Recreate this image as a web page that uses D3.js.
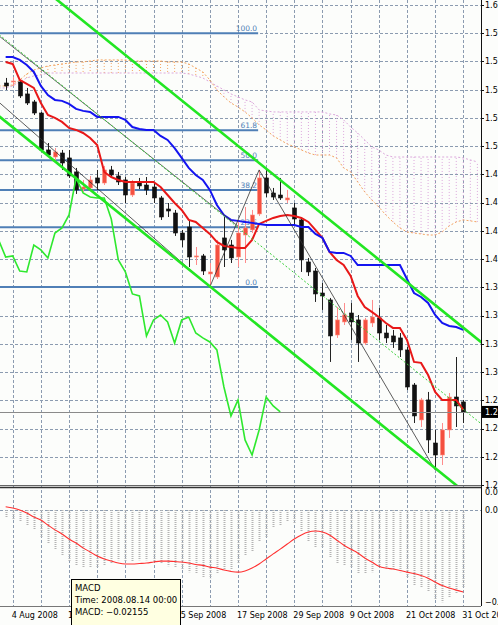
<!DOCTYPE html>
<html>
<head>
<meta charset="utf-8">
<script src="https://cdnjs.cloudflare.com/ajax/libs/d3/7.8.5/d3.min.js"></script>
<style>
  body { margin: 0; background: #fff; }
  svg { display: block; font-family: Tahoma, 'DejaVu Sans', sans-serif; }
</style>
</head>
<body>
<script>
const w = 498
const h = 625

// EUR/USD daily bars, 1 Aug 2008 .. 31 Oct 2008 (weekdays)
const dates = d3.timeDay.range(new Date(2008, 7, 1), new Date(2008, 10, 1))
  .filter(d => d.getDay() !== 0 && d.getDay() !== 6)

const open = [1.5552, 1.5561, 1.5561, 1.5459, 1.5391, 1.5297, 1.4983, 1.4923, 1.4957, 1.4915,
  1.4796, 1.4651, 1.4660, 1.4745, 1.4702, 1.4813, 1.4762, 1.4728, 1.4600, 1.4702,
  1.4685, 1.4668, 1.4575, 1.4481, 1.4447, 1.4277, 1.4328, 1.4073, 1.4082, 1.3929,
  1.3903, 1.4235, 1.4175, 1.4073, 1.4260, 1.4303, 1.4439, 1.4745, 1.4617, 1.4600,
  1.4558, 1.4490, 1.4388, 1.4031, 1.3954, 1.3767, 1.3708, 1.3410, 1.3521, 1.3597,
  1.3538, 1.3342, 1.3512, 1.3555, 1.3427, 1.3402, 1.3385, 1.3283, 1.2985, 1.2688,
  1.2858, 1.2492, 1.2390, 1.2603, 1.2883, 1.2841]
const high = [1.5595, 1.5603, 1.5578, 1.5510, 1.5408, 1.5306, 1.5042, 1.4999, 1.4983, 1.4983,
  1.4830, 1.4728, 1.4762, 1.4813, 1.4847, 1.4847, 1.4796, 1.4753, 1.4728, 1.4745,
  1.4753, 1.4702, 1.4592, 1.4532, 1.4473, 1.4303, 1.4388, 1.4158, 1.4099, 1.4022,
  1.4218, 1.4413, 1.4218, 1.4388, 1.4498, 1.4473, 1.4813, 1.4830, 1.4660, 1.4745,
  1.4643, 1.4532, 1.4413, 1.4065, 1.3980, 1.3852, 1.3725, 1.3648, 1.3682, 1.3682,
  1.3580, 1.3555, 1.3708, 1.3640, 1.3495, 1.3453, 1.3427, 1.3308, 1.3002, 1.2875,
  1.2926, 1.2603, 1.2662, 1.2917, 1.3223, 1.2858]
const low = [1.5493, 1.5527, 1.5425, 1.5365, 1.5280, 1.4966, 1.4923, 1.4872, 1.4813, 1.4745,
  1.4609, 1.4626, 1.4643, 1.4643, 1.4685, 1.4745, 1.4685, 1.4532, 1.4583, 1.4651,
  1.4600, 1.4532, 1.4388, 1.4413, 1.4252, 1.4158, 1.3988, 1.4005, 1.3920, 1.3818,
  1.3886, 1.3988, 1.4022, 1.3988, 1.4022, 1.4277, 1.4422, 1.4583, 1.4558, 1.4558,
  1.4532, 1.4345, 1.3946, 1.3912, 1.3691, 1.3623, 1.3181, 1.3385, 1.3495, 1.3368,
  1.3181, 1.3325, 1.3478, 1.3368, 1.3342, 1.3300, 1.3223, 1.2943, 1.2662, 1.2628,
  1.2407, 1.2263, 1.2305, 1.2535, 1.2628, 1.2662]
const close = [1.5527, 1.5569, 1.5442, 1.5382, 1.5297, 1.4983, 1.4940, 1.4966, 1.4872, 1.4762,
  1.4643, 1.4668, 1.4728, 1.4702, 1.4813, 1.4770, 1.4711, 1.4600, 1.4702, 1.4677,
  1.4643, 1.4575, 1.4413, 1.4464, 1.4277, 1.4218, 1.4073, 1.4082, 1.3954, 1.3946,
  1.4175, 1.4133, 1.4065, 1.4277, 1.4320, 1.4430, 1.4745, 1.4617, 1.4583, 1.4575,
  1.4575, 1.4396, 1.4048, 1.3946, 1.3759, 1.3742, 1.3402, 1.3538, 1.3580, 1.3521,
  1.3342, 1.3538, 1.3563, 1.3427, 1.3385, 1.3351, 1.3283, 1.2968, 1.2722, 1.2858,
  1.2518, 1.2390, 1.2603, 1.2883, 1.2807, 1.2756]

// Ichimoku
const tenkan = [1.5731, 1.5714, 1.5578, 1.5544, 1.5510, 1.5382, 1.5280, 1.5255, 1.5221, 1.5170,
  1.5153, 1.5127, 1.5085, 1.5025, 1.4796, 1.4753, 1.4728, 1.4711, 1.4711, 1.4711,
  1.4711, 1.4711, 1.4668, 1.4600, 1.4532, 1.4473, 1.4388, 1.4371, 1.4320, 1.4269,
  1.4201, 1.4167, 1.4158, 1.4150, 1.4150, 1.4218, 1.4354, 1.4380, 1.4405, 1.4422,
  1.4430, 1.4422, 1.4405, 1.4371, 1.4303, 1.4235, 1.4116, 1.4048, 1.4005, 1.3912,
  1.3742, 1.3648, 1.3606, 1.3563, 1.3512, 1.3470, 1.3470, 1.3368, 1.3181, 1.3173,
  1.3070, 1.2926, 1.2858, 1.2858, 1.2858, 1.2773]
const kijun = [1.5773, 1.5773, 1.5748, 1.5705, 1.5646, 1.5527, 1.5450, 1.5408, 1.5400, 1.5374,
  1.5332, 1.5315, 1.5306, 1.5264, 1.5264, 1.5264, 1.5264, 1.5238, 1.5178, 1.5161,
  1.5153, 1.5153, 1.5102, 1.5068, 1.4999, 1.4915, 1.4830, 1.4770, 1.4728, 1.4643,
  1.4515, 1.4430, 1.4388, 1.4380, 1.4371, 1.4363, 1.4354, 1.4345, 1.4345, 1.4345,
  1.4345, 1.4345, 1.4328, 1.4328, 1.4269, 1.4235, 1.4116, 1.4108, 1.4108, 1.4082,
  1.4005, 1.4005, 1.4005, 1.4005, 1.4005, 1.4005, 1.4005, 1.3886, 1.3767, 1.3733,
  1.3682, 1.3580, 1.3512, 1.3487, 1.3478, 1.3453]
// cloud spans start one bar before the first candle and run two bars past the last visible one
const cloudStart = -1
const senkouA = [1.5527, 1.5527, 1.5535, 1.5578, 1.5629, 1.5663, 1.5680, 1.5697, 1.5705, 1.5714,
  1.5722, 1.5731, 1.5731, 1.5739, 1.5748, 1.5748, 1.5748, 1.5748, 1.5748, 1.5739,
  1.5739, 1.5739, 1.5739, 1.5739, 1.5731, 1.5731, 1.5731, 1.5714, 1.5680, 1.5646,
  1.5578, 1.5493, 1.5434, 1.5382, 1.5348, 1.5306, 1.5255, 1.5196, 1.5153, 1.5102,
  1.5068, 1.5034, 1.5009, 1.4983, 1.4957, 1.4940, 1.4940, 1.4940, 1.4915, 1.4830,
  1.4796, 1.4711, 1.4626, 1.4558, 1.4498, 1.4430, 1.4371, 1.4320, 1.4286, 1.4277,
  1.4269, 1.4260, 1.4260, 1.4286, 1.4337, 1.4371, 1.4388, 1.4380, 1.4371]
const senkouB = [1.5510, 1.5510, 1.5527, 1.5561, 1.5595, 1.5612, 1.5620, 1.5637, 1.5637, 1.5637,
  1.5637, 1.5637, 1.5637, 1.5637, 1.5637, 1.5637, 1.5637, 1.5637, 1.5637, 1.5637,
  1.5637, 1.5637, 1.5637, 1.5637, 1.5637, 1.5637, 1.5637, 1.5629, 1.5612, 1.5595,
  1.5561, 1.5527, 1.5493, 1.5459, 1.5434, 1.5408, 1.5391, 1.5323, 1.5315, 1.5306,
  1.5306, 1.5306, 1.5306, 1.5306, 1.5306, 1.5306, 1.5306, 1.5289, 1.5280, 1.5238,
  1.5178, 1.5127, 1.5068, 1.5009, 1.4983, 1.4940, 1.4923, 1.4923, 1.4923, 1.4923,
  1.4923, 1.4923, 1.4923, 1.4923, 1.4923, 1.4923, 1.4915, 1.4898, 1.4881]
const chikouShift = 26

// MACD window
const macd = [-0.0029, -0.0042, -0.0050, -0.0063, -0.0083, -0.0113, -0.0138, -0.0167, -0.0188, -0.02155,
  -0.0229, -0.0238, -0.0238, -0.0242, -0.0229, -0.0221, -0.0209, -0.0217, -0.0217, -0.0209,
  -0.0209, -0.0217, -0.0225, -0.0234, -0.0242, -0.0250, -0.0259, -0.0263, -0.0279, -0.0284,
  -0.0263, -0.0250, -0.0250, -0.0221, -0.0192, -0.0175, -0.0133, -0.0113, -0.0075, -0.0063,
  -0.0050, -0.0054, -0.0092, -0.0133, -0.0158, -0.0158, -0.0200, -0.0221, -0.0229, -0.0242,
  -0.0263, -0.0263, -0.0259, -0.0242, -0.0250, -0.0250, -0.0259, -0.0279, -0.0313, -0.0321,
  -0.0342, -0.0375, -0.0384, -0.0363, -0.0346, -0.0325]
const signal = [0.0013, 0.0008, 0.0000, -0.0013, -0.0029, -0.0042, -0.0063, -0.0083, -0.0100, -0.0121,
  -0.0138, -0.0158, -0.0175, -0.0192, -0.0204, -0.0213, -0.0221, -0.0225, -0.0225, -0.0223,
  -0.0221, -0.0217, -0.0213, -0.0213, -0.0215, -0.0217, -0.0221, -0.0227, -0.0231, -0.0238,
  -0.0242, -0.0250, -0.0256, -0.0259, -0.0254, -0.0242, -0.0225, -0.0204, -0.0183, -0.0163,
  -0.0142, -0.0121, -0.0104, -0.0092, -0.0088, -0.0092, -0.0104, -0.0125, -0.0146, -0.0163,
  -0.0179, -0.0200, -0.0217, -0.0234, -0.0242, -0.0246, -0.0252, -0.0259, -0.0265, -0.0273,
  -0.0284, -0.0300, -0.0315, -0.0325, -0.0334, -0.0342]

// axes
const priceTicks = [1.2135, 1.2375, 1.2615, 1.2855, 1.3095, 1.3335, 1.3575, 1.3815, 1.4055,
  1.4295, 1.4535, 1.4775, 1.5015, 1.5255, 1.5495, 1.5735, 1.5975, 1.6215]
const macdTicks = [0.0072, 0.0000, -0.0383]
const dateTickBars = [1, 9, 17, 25, 33, 41, 49, 57, 65]
const dateTickLabels = ['4 Aug 2008', '14 Aug 2008', '26 Aug 2008', '5 Sep 2008', '17 Sep 2008',
  '29 Sep 2008', '9 Oct 2008', '21 Oct 2008', '31 Oct 2008']

// drawn objects: [bar, price]
const fiboHigh = 1.5974
const fiboLow = 1.3818
const fiboEndBar = 36
const fiboLevels = [0, 23.6, 38.2, 50, 61.8, 100]
const channelUpper = [[0, 1.6611], [65, 1.3472]]
const channelMid = [[0, 1.5918], [65, 1.2778]]
const channelLower = [[0, 1.5224], [65, 1.2085]]
const trendLine = [[-1, 1.5955], [33, 1.4335]]
const zigzag = [[-1, 1.5391], [29, 1.3818], [36, 1.4813], [61, 1.2263]]

const plotW = 481
const mainBottom = 485
const macdTop = 489
const macdBottom = 606

const x = d3.scaleLinear().domain([0, 65]).range([5.66, 463.3])
const y = d3.scaleLinear().domain([1.2135, 1.6215]).range([485, 5])
const ym = d3.scaleLinear().domain([-0.0400, 0.0083]).range([606, 490])

const svg = d3.select('body').append('svg')
  .attr('width', w)
  .attr('height', h)

svg.append('rect').attr('width', w).attr('height', h).attr('fill', '#fcfdfb')

const defs = svg.append('defs')
defs.append('clipPath').attr('id', 'clipMain').append('rect')
  .attr('x', 0).attr('y', 0).attr('width', plotW).attr('height', mainBottom)
defs.append('clipPath').attr('id', 'clipMacd').append('rect')
  .attr('x', 0).attr('y', macdTop).attr('width', plotW).attr('height', macdBottom - macdTop)

const drawGrid = () => {
  const g = svg.append('g')
    .attr('stroke', '#8b9bb0')
    .attr('stroke-dasharray', '3,2')
    .attr('stroke-width', 1)
  g.selectAll('line.v')
    .data(d3.range(1, 66, 4))
    .enter().append('line')
    .attr('x1', d => Math.round(x(d)) + 0.5)
    .attr('x2', d => Math.round(x(d)) + 0.5)
    .attr('y1', 0)
    .attr('y2', macdBottom)
  g.selectAll('line.h')
    .data(priceTicks)
    .enter().append('line')
    .attr('x1', 0)
    .attr('x2', plotW)
    .attr('y1', d => Math.round(y(d)) + 0.5)
    .attr('y2', d => Math.round(y(d)) + 0.5)
  g.append('line')
    .attr('x1', 0).attr('x2', plotW)
    .attr('y1', Math.round(ym(0)) + 0.5).attr('y2', Math.round(ym(0)) + 0.5)
}

const drawCloud = () => {
  const g = svg.append('g').attr('clip-path', 'url(#clipMain)')
  const idx = d3.range(senkouA.length)
  g.selectAll('line.kumo')
    .data(idx)
    .enter().append('line')
    .attr('x1', i => x(i + cloudStart))
    .attr('x2', i => x(i + cloudStart))
    .attr('y1', i => y(senkouA[i]))
    .attr('y2', i => y(senkouB[i]))
    .attr('stroke', i => senkouA[i] >= senkouB[i] ? '#f4a460' : '#dca8dc')
    .attr('stroke-dasharray', '1,2')
    .attr('stroke-width', 1)
  const line = d3.line().x((d, i) => x(i + cloudStart)).y(d => y(d))
  g.append('path').attr('d', line(senkouA))
    .attr('fill', 'none').attr('stroke', '#f4a460').attr('stroke-dasharray', '2,2')
  g.append('path').attr('d', line(senkouB))
    .attr('fill', 'none').attr('stroke', '#dca8dc').attr('stroke-dasharray', '2,2')
}

const drawFibo = () => {
  const g = svg.append('g').attr('clip-path', 'url(#clipMain)')
  const lv = d => y(fiboLow + (fiboHigh - fiboLow) * d / 100)
  g.selectAll('line')
    .data(fiboLevels)
    .enter().append('line')
    .attr('x1', 0)
    .attr('x2', x(fiboEndBar) - 1)
    .attr('y1', lv)
    .attr('y2', lv)
    .attr('stroke', '#4f7fb6')
    .attr('stroke-width', 2)
  g.selectAll('text')
    .data(fiboLevels)
    .enter().append('text')
    .attr('x', x(fiboEndBar) - 2)
    .attr('y', d => lv(d) - 2)
    .attr('text-anchor', 'end')
    .attr('font-size', 7.5)
    .attr('fill', '#4f7fb6')
    .text(d => d.toFixed(1))
}

const drawCandles = () => {
  const g = svg.append('g').attr('clip-path', 'url(#clipMain)')
  const bars = g.selectAll('g.bar')
    .data(close.map((c, i) => ({ i, o: open[i], hi: high[i], lo: low[i], c })))
    .enter().append('g')
  bars.append('line')
    .attr('x1', d => Math.round(x(d.i)) + 0.5)
    .attr('x2', d => Math.round(x(d.i)) + 0.5)
    .attr('y1', d => y(d.hi))
    .attr('y2', d => y(d.lo))
    .attr('stroke', d => d.c >= d.o ? '#ff8c8c' : '#222')
  bars.append('rect')
    .attr('x', d => Math.round(x(d.i)) - 1.5)
    .attr('width', 4)
    .attr('y', d => y(Math.max(d.o, d.c)))
    .attr('height', d => Math.max(1, Math.abs(y(d.o) - y(d.c))))
    .attr('fill', d => d.c >= d.o ? '#f45040' : '#111')
    .attr('stroke', d => d.c >= d.o ? '#ff9080' : '#111')
    .attr('stroke-width', 0.6)
}

const drawIndicators = () => {
  const g = svg.append('g').attr('clip-path', 'url(#clipMain)')
  const line = d3.line().x((d, i) => x(i)).y(d => y(d))
  // current price line
  g.append('line')
    .attr('x1', 0).attr('x2', plotW)
    .attr('y1', Math.round(y(close[close.length - 1])) + 0.5)
    .attr('y2', Math.round(y(close[close.length - 1])) + 0.5)
    .attr('stroke', '#8a8a8a')
  // chikou span: closes drawn 26 bars back
  const chikou = d3.line().x((d, i) => x(i - chikouShift)).y(d => y(d))
  const pts = close.map((c, i) => i >= chikouShift - 1 ? c : null)
  g.append('path')
    .attr('d', chikou.defined(d => d !== null)(pts))
    .attr('fill', 'none').attr('stroke', '#2ee82e').attr('stroke-width', 1.6)
  g.append('path').attr('d', line(tenkan))
    .attr('fill', 'none').attr('stroke', '#e81818').attr('stroke-width', 2)
  g.append('path').attr('d', line(kijun))
    .attr('fill', 'none').attr('stroke', '#1414f0').attr('stroke-width', 2)
}

const drawObjects = () => {
  const g = svg.append('g').attr('clip-path', 'url(#clipMain)')
  const ray = (pts) => {
    const [[i0, p0], [i1, p1]] = pts
    const a = x.invert(0) - 1
    const b = x.invert(plotW) + 1
    const at = i => p0 + (p1 - p0) * (i - i0) / (i1 - i0)
    return [[x(a), y(at(a))], [x(b), y(at(b))]]
  }
  const seg = d3.line()
  g.append('path').attr('d', seg(trendLine.map(d => [x(d[0]), y(d[1])])))
    .attr('stroke', '#444').attr('stroke-width', 0.8).attr('fill', 'none')
  g.append('path').attr('d', seg(ray(channelMid)))
    .attr('stroke', '#3ad03a').attr('stroke-width', 1).attr('stroke-dasharray', '2,2').attr('fill', 'none')
  g.append('path').attr('d', seg(zigzag.map(d => [x(d[0]), y(d[1])])))
    .attr('stroke', '#333').attr('stroke-width', 0.8).attr('fill', 'none')
  for (const c of [channelUpper, channelLower]) {
    g.append('path').attr('d', seg(ray(c)))
      .attr('stroke', '#22e622').attr('stroke-width', 2.6).attr('fill', 'none')
  }
}

const drawMacd = () => {
  const g = svg.append('g').attr('clip-path', 'url(#clipMacd)')
  g.selectAll('line.hist')
    .data(macd)
    .enter().append('line')
    .attr('x1', (d, i) => Math.round(x(i)) + 0.5)
    .attr('x2', (d, i) => Math.round(x(i)) + 0.5)
    .attr('y1', ym(0))
    .attr('y2', d => ym(d))
    .attr('stroke', '#b4b4b4')
    .attr('stroke-width', 2)
    .attr('stroke-dasharray', '1,1')
  g.append('path')
    .attr('d', d3.line().x((d, i) => x(i)).y(d => ym(d)).curve(d3.curveMonotoneX)(signal))
    .attr('fill', 'none').attr('stroke', '#ff3030').attr('stroke-width', 1.1)
}

const drawAxes = () => {
  // frame
  svg.append('line').attr('x1', plotW + 0.5).attr('x2', plotW + 0.5).attr('y1', 0).attr('y2', macdBottom)
    .attr('stroke', '#111')
  svg.append('line').attr('x1', 0).attr('x2', plotW).attr('y1', mainBottom + 0.5).attr('y2', mainBottom + 0.5)
    .attr('stroke', '#666')
  svg.append('line').attr('x1', 0).attr('x2', plotW).attr('y1', mainBottom + 2.5).attr('y2', mainBottom + 2.5)
    .attr('stroke', '#333').attr('stroke-width', 1.5)
  svg.append('line').attr('x1', 0).attr('x2', plotW).attr('y1', macdBottom + 0.5).attr('y2', macdBottom + 0.5)
    .attr('stroke', '#777')

  const fmt = d3.format('.4f')
  const ya = svg.append('g').attr('font-size', 8).attr('fill', '#000')
  ya.selectAll('text.p')
    .data(priceTicks)
    .enter().append('text')
    .attr('x', 485)
    .attr('y', d => y(d))
    .attr('dy', '0.35em')
    .text(d => fmt(d))
  ya.selectAll('line.p')
    .data(priceTicks)
    .enter().append('line')
    .attr('x1', plotW).attr('x2', plotW + 3)
    .attr('y1', d => Math.round(y(d)) + 0.5).attr('y2', d => Math.round(y(d)) + 0.5)
    .attr('stroke', '#111')
  ya.selectAll('text.m')
    .data(macdTicks)
    .enter().append('text')
    .attr('x', 485)
    .attr('y', d => ym(d))
    .attr('dy', '0.35em')
    .text(d => fmt(d))

  // last price marker
  const last = close[close.length - 1]
  svg.append('rect').attr('x', 482).attr('y', y(last) - 6).attr('width', 16).attr('height', 12).attr('fill', '#000')
  svg.append('text').attr('x', 485).attr('y', y(last)).attr('dy', '0.35em')
    .attr('font-size', 8).attr('fill', '#fff').text(fmt(last))

  const xa = svg.append('g').attr('font-size', 8).attr('fill', '#000')
  xa.selectAll('text')
    .data(dateTickBars)
    .enter().append('text')
    .attr('x', d => x(d) - 1)
    .attr('y', 618)
    .text((d, i) => dateTickLabels[i])
}

const drawTooltip = () => {
  const i = 9
  const t = dates[i]
  const g = svg.append('g').attr('font-size', 8.5).attr('fill', '#000')
  g.append('rect').attr('x', 71.5).attr('y', 579.5).attr('width', 109).attr('height', 46)
    .attr('fill', '#ffffe1').attr('stroke', '#000')
  const lines = ['MACD',
    'Time: ' + d3.timeFormat('%Y.%m.%d %H:%M')(t),
    'MACD: ' + d3.format('.5f')(macd[i])]
  g.selectAll('text')
    .data(lines)
    .enter().append('text')
    .attr('x', 75)
    .attr('y', (d, k) => 591 + k * 12)
    .text(d => d)
}

drawGrid()
drawCloud()
drawFibo()
drawCandles()
drawIndicators()
drawObjects()
drawMacd()
drawAxes()
drawTooltip()
</script>
</body>
</html>
